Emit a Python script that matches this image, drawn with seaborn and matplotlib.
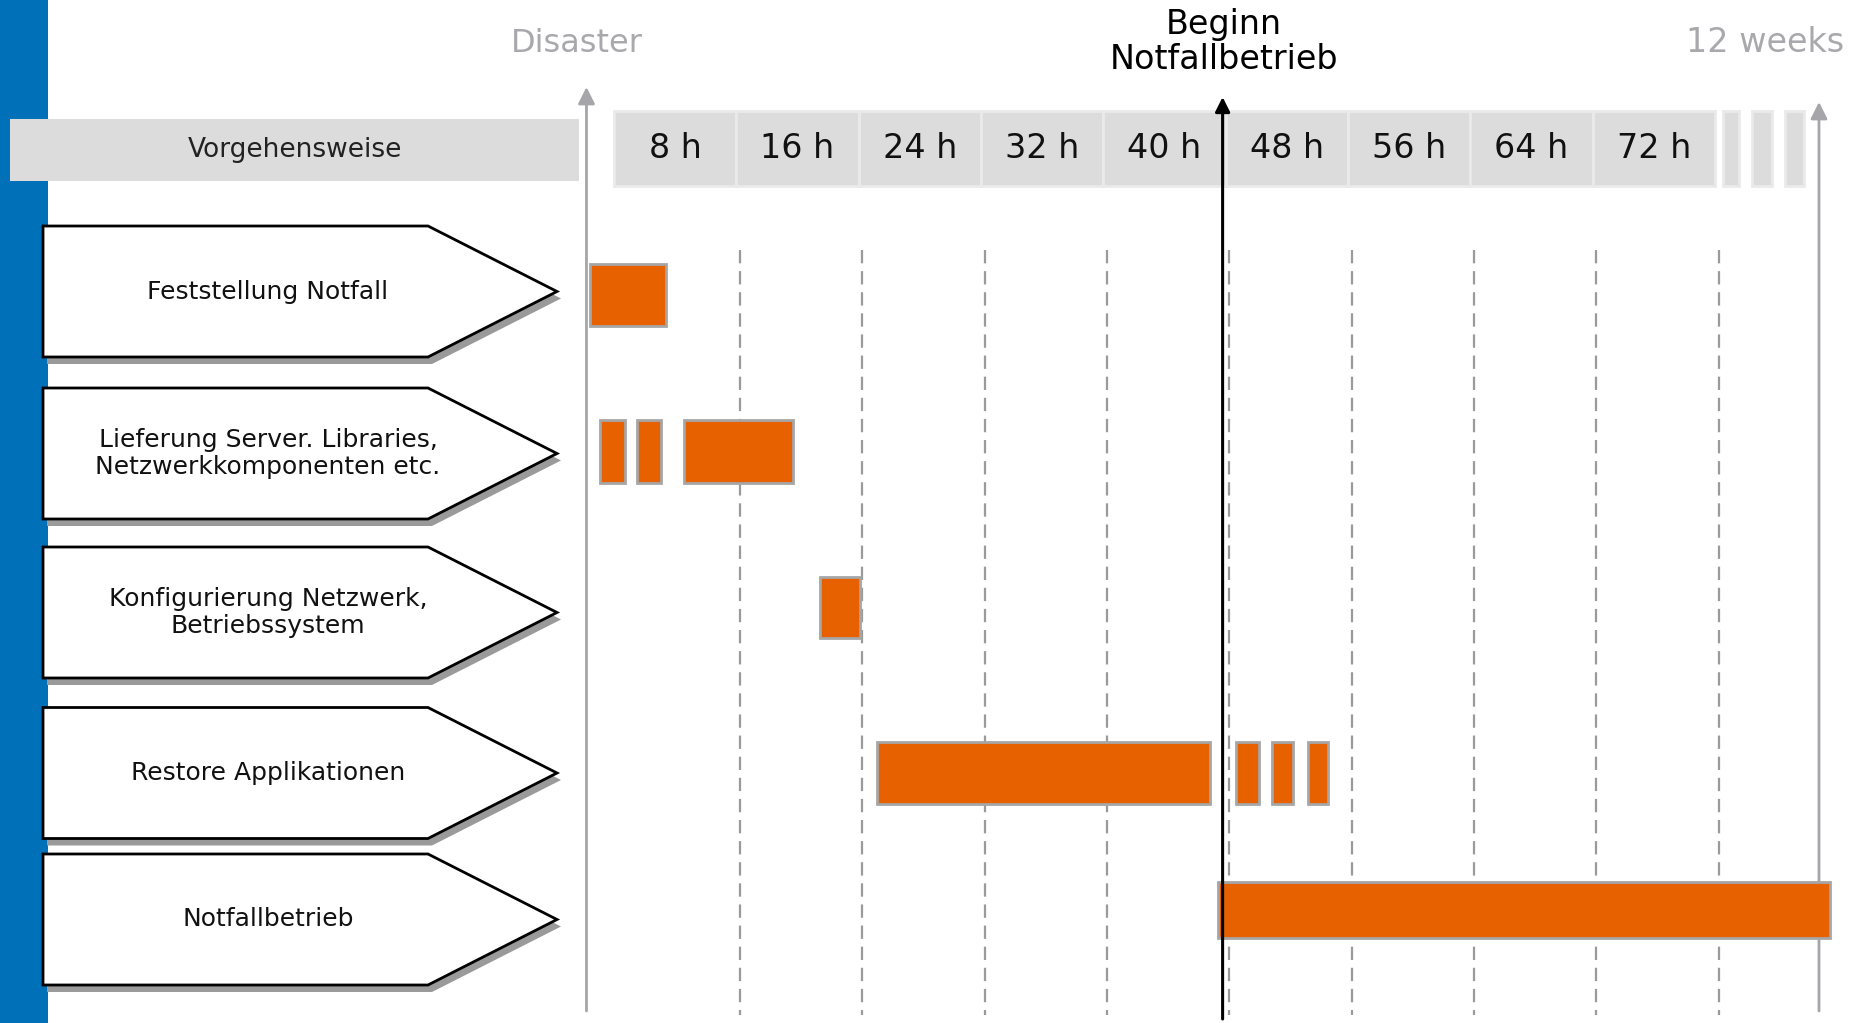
import matplotlib
matplotlib.use("Agg")
import matplotlib.pyplot as plt
from matplotlib.patches import Polygon, Rectangle
import seaborn as sns

sns.set_theme(style="white")
plt.rcParams["font.family"] = ["DejaVu Sans"]

#%%
# data
steps = [
    "Feststellung Notfall",
    "Lieferung Server. Libraries,\nNetzwerkkomponenten etc.",
    "Konfigurierung Netzwerk,\nBetriebssystem",
    "Restore Applikationen",
    "Notfallbetrieb",
]
hour_ticks  = [8, 16, 24, 32, 40, 48, 56, 64, 72]
hour_labels = ["8 h", "16 h", "24 h", "32 h", "40 h", "48 h", "56 h", "64 h", "72 h"]

# gantt segments (step index, start hour, end hour)
seg_step  = [0, 1, 1, 1, 2, 3, 3, 3, 3, 4]
seg_start = [-1.6, -0.9, 1.5, 4.6, 13.5, 17.2, 40.7, 43.0, 45.4, 39.5]
seg_end   = [3.4, 0.7, 3.1, 11.7, 16.1, 39.0, 42.2, 44.4, 46.7, 79.5]

disaster_h = -1.8
beginn_h   = 39.8
weeks_h    = 78.8

#%%
# layout (pixels)
W, H = 1865, 1023
PX0, PX72 = 614, 1715
PX_PER_H = (PX72 - PX0) / 72

ROW_Y   = [295, 451, 607.5, 773, 910]
BAR_H   = [62, 63, 61, 62, 56]
PENT_Y  = [291.5, 453.5, 612.5, 773, 919.5]
PENT_H  = 131
PENT_L, PENT_N, PENT_T = 43, 428, 557
BREAKS  = [(72.5, 1.1), (74.4, 1.3), (76.6, 1.2)]
GUIDE_SHIFT = 0.25   # dashed guides sit a touch right of the cell edges

ORANGE = "#E86100"
GREY_LINE = "#A5A5AA"
GREY_TEXT = "#A8A8AD"
BLUE = "#0070B8"

fig = plt.figure(figsize=(W / 100, H / 100), dpi=100)
fig.patch.set_facecolor("white")

# background / decoration layer in pixels
bg = fig.add_axes([0, 0, 1, 1])
bg.set_xlim(0, W)
bg.set_ylim(H, 0)
bg.axis("off")

bg.add_patch(Rectangle((0, 0), 48, H, color=BLUE, lw=0, zorder=1))
bg.add_patch(Rectangle((10, 119), 569, 62, color="#DCDCDC", lw=0, zorder=2))
bg.text(295, 150, "Vorgehensweise", ha="center", va="center",
        fontsize=19, color="#222222", zorder=3)

for yc, label in zip(PENT_Y, steps):
    top, bot = yc - PENT_H / 2, yc + PENT_H / 2
    pts = [(PENT_L, top), (PENT_N, top), (PENT_T, yc), (PENT_N, bot), (PENT_L, bot)]
    shadow = [(x + 4, y + 7) for x, y in pts]
    bg.add_patch(Polygon(shadow, closed=True, color="#9A9A9A", lw=0, zorder=3))
    bg.add_patch(Polygon(pts, closed=True, facecolor="white",
                         edgecolor="black", lw=2, zorder=4))
    bg.text(268, yc, label, ha="center", va="center", fontsize=18,
            color="#111111", multialignment="center", linespacing=1.2, zorder=5)

bg.text(577, 44, "Disaster", ha="center", va="center", fontsize=23, color=GREY_TEXT)
bg.text(1765, 42, "12 weeks", ha="center", va="center", fontsize=24, color=GREY_TEXT)
bg.text(1224, 42, "Beginn\nNotfallbetrieb", ha="center", va="center",
        fontsize=24, color="black", linespacing=1.1)

#%%
# timeline layer: x in hours, y in pixels
ax = fig.add_axes([0, 0, 1, 1])
ax.set_facecolor("none")
ax.set_xlim(-PX0 / PX_PER_H, (W - PX0) / PX_PER_H)
ax.set_ylim(H, 0)
ax.axis("off")

# header cells
ax.bar([h - 4 for h in hour_ticks], 75, bottom=111, width=8,
       color="#DCDCDC", edgecolor="#EAEAEA", linewidth=2, zorder=1)
for h, lab in zip(hour_ticks, hour_labels):
    ax.text(h - 4, 149, lab, ha="center", va="center", fontsize=24,
            color="#111111", zorder=2)
ax.bar([b[0] for b in BREAKS], 75, bottom=111, width=[b[1] for b in BREAKS],
       align="edge", color="#DCDCDC", edgecolor="#EAEAEA", linewidth=2, zorder=1)

# dashed guides
ax.vlines([h + GUIDE_SHIFT for h in hour_ticks], 250, 1015, colors="#9A9A9A",
          linestyles=(0, (6, 3.5)), linewidth=1.6, zorder=2)

# time axes with arrow heads
for h, tip, col in [(disaster_h, 87, GREY_LINE), (weeks_h, 102, GREY_LINE)]:
    ax.annotate("", xy=(h, tip), xytext=(h, 1011),
                arrowprops=dict(arrowstyle="-|>", color=col, lw=2,
                                mutation_scale=25, shrinkA=0, shrinkB=0),
                zorder=2)

# gantt bars
for s, a, b in zip(seg_step, seg_start, seg_end):
    ax.barh(ROW_Y[s], b - a, left=a, height=BAR_H[s], color=ORANGE,
            edgecolor="#A6A6A6", linewidth=2, zorder=3)

# start of emergency operation
ax.annotate("", xy=(beginn_h, 97), xytext=(beginn_h, 1019),
            arrowprops=dict(arrowstyle="-|>", color="black", lw=2.2,
                            mutation_scale=22, shrinkA=0, shrinkB=0),
            zorder=6)

fig.savefig("out.png", dpi=100, facecolor="white")
plt.close(fig)
